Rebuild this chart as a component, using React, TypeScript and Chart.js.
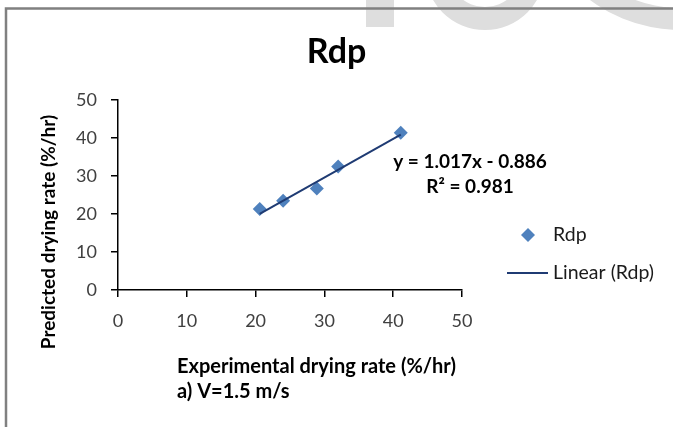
import React, { useEffect, useRef } from 'react';
import { Chart, registerables } from 'chart.js';

Chart.register(...registerables);

// ---- data ----
const chartTitle = 'Rdp';
const seriesName = 'Rdp';
const trendName = 'Linear (Rdp)';
const experimental = [20.6, 24.0, 28.9, 32.0, 41.1];
const predicted = [21.3, 23.5, 26.7, 32.5, 41.4];
const trendSlope = 1.017;
const trendIntercept = -0.886;
const equationLines = ['y = 1.017x - 0.886', 'R\u00B2 = 0.981'];
const xTitleLines = ['Experimental drying rate (%/hr)', 'a) V=1.5 m/s'];
const yTitleText = 'Predicted drying rate (%/hr)';
const xTickValues = [0, 10, 20, 30, 40, 50];
const yTickValues = [0, 10, 20, 30, 40, 50];

// ---- style ----
const FONT = 'Lato, "Open Sans", "DejaVu Sans", sans-serif';
const POINT_COLOR = '#4f81bd';
const TREND_COLOR = '#1f3b73';
const W = 673;
const H = 427;

function ring(ctx: CanvasRenderingContext2D, cx: number, cy: number, R: number, r: number) {
  ctx.beginPath();
  ctx.arc(cx, cy, R, 0, Math.PI * 2);
  ctx.arc(cx, cy, r, 0, Math.PI * 2, true);
  ctx.fill();
}

const decorPlugin = {
  id: 'decor',
  beforeDraw(chart: any) {
    const ctx: CanvasRenderingContext2D = chart.ctx;
    ctx.save();
    // faint watermark remnants at the top
    ctx.fillStyle = '#dedede';
    ctx.fillRect(366, 0, 28, 27);
    ring(ctx, 485, -30, 60, 37);
    ring(ctx, 680, -120, 150, 128);
    // outer frame
    ctx.strokeStyle = '#808080';
    ctx.lineWidth = 2.5;
    ctx.beginPath();
    ctx.moveTo(6, H);
    ctx.lineTo(6, 8.5);
    ctx.lineTo(W, 8.5);
    ctx.stroke();
    ctx.restore();
  },
  afterDraw(chart: any) {
    const ctx: CanvasRenderingContext2D = chart.ctx;
    const area = chart.chartArea;
    ctx.save();
    ctx.fillStyle = '#000';

    // y axis title
    ctx.save();
    ctx.font = `bold 19px ${FONT}`;
    ctx.textAlign = 'center';
    ctx.textBaseline = 'middle';
    ctx.translate(49, 232);
    ctx.rotate(-Math.PI / 2);
    ctx.fillText(yTitleText, 0, 0);
    ctx.restore();

    // x axis title (two lines, left aligned)
    ctx.font = `bold 20px ${FONT}`;
    ctx.textAlign = 'left';
    ctx.textBaseline = 'middle';
    ctx.fillText(xTitleLines[0], 177, 367);
    ctx.fillText(xTitleLines[1], 177, 392);

    // trendline equation
    ctx.font = `bold 19px ${FONT}`;
    ctx.textAlign = 'center';
    ctx.fillText(equationLines[0], area.right + 8, 162);
    ctx.fillText(equationLines[1], area.right + 8, 187);

    // legend
    const ds0 = chart.data.datasets[0];
    const ds1 = chart.data.datasets[1];
    const mx = area.right + 66;
    const my = 235;
    const r = ds0.pointRadius;
    ctx.fillStyle = ds0.backgroundColor;
    ctx.beginPath();
    ctx.moveTo(mx, my - r);
    ctx.lineTo(mx + r, my);
    ctx.lineTo(mx, my + r);
    ctx.lineTo(mx - r, my);
    ctx.closePath();
    ctx.fill();

    const ly = 273;
    ctx.strokeStyle = ds1.borderColor;
    ctx.lineWidth = ds1.borderWidth;
    ctx.beginPath();
    ctx.moveTo(area.right + 45, ly);
    ctx.lineTo(area.right + 86, ly);
    ctx.stroke();

    ctx.fillStyle = '#1a1a1a';
    ctx.font = `19.5px ${FONT}`;
    ctx.textAlign = 'left';
    ctx.textBaseline = 'middle';
    ctx.fillText(ds0.label, area.right + 91, my);
    ctx.fillText(ds1.label, area.right + 91, ly);
    ctx.restore();
  },
};

export default function App() {
  const ref = useRef<HTMLCanvasElement | null>(null);

  useEffect(() => {
    if (!ref.current) return;
    const xMin = Math.min(...experimental);
    const xMax = Math.max(...experimental);
    const trend = [
      { x: xMin, y: trendSlope * xMin + trendIntercept },
      { x: xMax, y: trendSlope * xMax + trendIntercept },
    ];
    const points = experimental.map((x, i) => ({ x, y: predicted[i] }));

    const tickFont = { family: FONT, size: 18 };
    const axisCommon = (values: number[]) => ({
      type: 'linear' as const,
      min: values[0],
      max: values[values.length - 1],
      afterBuildTicks: (s: any) => {
        s.ticks = values.map((v) => ({ value: v }));
      },
      grid: {
        display: true,
        drawOnChartArea: false,
        drawTicks: true,
        tickLength: 7,
        color: '#000',
        lineWidth: 1.5,
      },
      border: { display: true, color: '#000', width: 1.5 },
    });

    const chart = new Chart(ref.current, {
      type: 'scatter',
      data: {
        datasets: [
          {
            label: seriesName,
            data: points,
            backgroundColor: POINT_COLOR,
            borderColor: POINT_COLOR,
            borderWidth: 0,
            pointStyle: 'rectRot',
            pointRadius: 7,
            showLine: false,
            order: 1,
          } as any,
          {
            label: trendName,
            type: 'line',
            data: trend,
            borderColor: TREND_COLOR,
            borderWidth: 2,
            pointRadius: 0,
            fill: false,
            showLine: true,
            order: 0,
          } as any,
        ],
      },
      options: {
        animation: false,
        responsive: true,
        maintainAspectRatio: false,
        layout: { padding: { left: 0, top: 0, right: 0, bottom: 0 } },
        plugins: {
          legend: { display: false },
          tooltip: { enabled: false },
          title: {
            display: true,
            text: chartTitle,
            color: '#000',
            font: { family: FONT, size: 34, weight: 'bold', lineHeight: 1.2 },
            padding: { top: 31.7, bottom: 27.5 },
          },
        },
        scales: {
          x: {
            ...axisCommon(xTickValues),
            position: 'bottom',
            ticks: { font: tickFont, color: '#404040', padding: 13, maxRotation: 0, autoSkip: false },
            afterFit: (s: any) => {
              s.height = 137;
            },
          },
          y: {
            ...axisCommon(yTickValues),
            position: 'left',
            ticks: { font: tickFont, color: '#404040', padding: 14, autoSkip: false },
            afterFit: (s: any) => {
              s.width = 118;
            },
          },
          // empty right-hand region that holds the legend and equation
          side: {
            type: 'linear',
            position: 'right',
            display: true,
            min: 0,
            max: 1,
            grid: { display: false },
            border: { display: false },
            ticks: { display: false },
            afterFit: (s: any) => {
              s.width = 211;
            },
          },
        },
      },
      plugins: [decorPlugin],
    });
    return () => chart.destroy();
  }, []);

  return (
    <div style={{ position: 'fixed', left: 0, top: 0, width: W, height: H, background: '#fff' }}>
      <canvas ref={ref} />
    </div>
  );
}
